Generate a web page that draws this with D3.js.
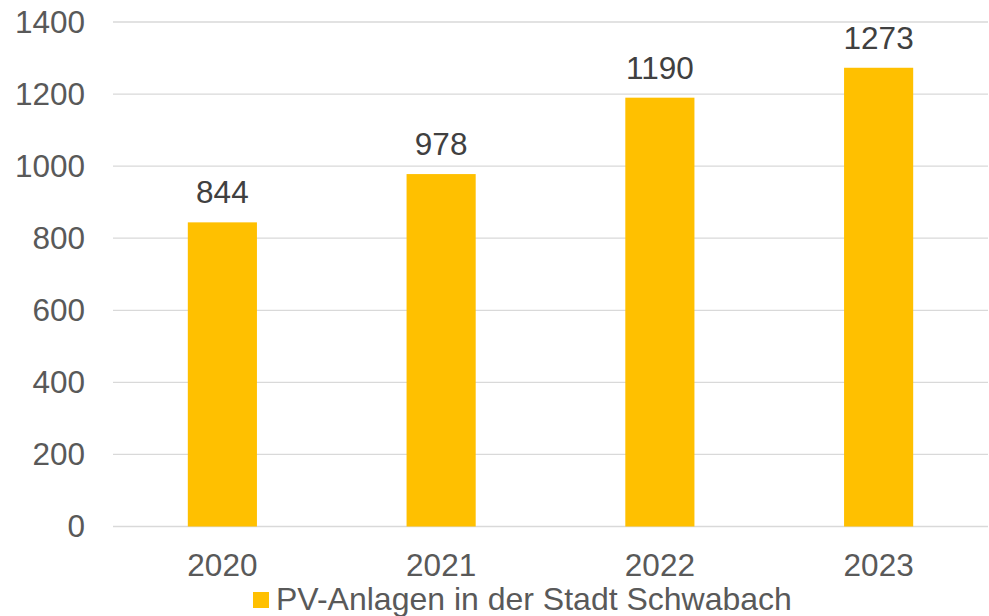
<!DOCTYPE html>
<html>
<head>
<meta charset="utf-8">
<script src="https://cdn.jsdelivr.net/npm/d3@7"></script>
<style>
  body { margin: 0; background: #fff; }
  text { font-family: "Liberation Sans", Arial, sans-serif; }
</style>
</head>
<body>
<div id="chart"></div>
<script>
const years = ['2020', '2021', '2022', '2023'];
const values = [844, 978, 1190, 1273];
const yTicks = [0, 200, 400, 600, 800, 1000, 1200, 1400];
const seriesName = 'PV-Anlagen in der Stadt Schwabach';

const width = 989, height = 616;
const plotLeft = 113, plotRight = 988, plotTop = 22, plotBottom = 526.5;
const fontSize = 31.5;

const svg = d3.select('#chart')
    .append('svg')
    .attr('width', width)
    .attr('height', height);

const x = d3.scaleBand()
    .domain(years)
    .range([plotLeft, plotRight])
    .paddingInner(0.684)
    .paddingOuter(0.342);

const y = d3.scaleLinear()
    .domain([0, 1400])
    .range([plotBottom, plotTop]);

// gitterlinien
svg.append('g')
    .selectAll('line')
    .data(yTicks)
    .join('line')
    .attr('x1', plotLeft)
    .attr('x2', plotRight)
    .attr('y1', d => y(d))
    .attr('y2', d => y(d))
    .attr('stroke', '#d9d9d9')
    .attr('stroke-width', 1.3);

// y-achse
const yAxis = svg.append('g')
    .attr('transform', 'translate(85,0)')
    .call(d3.axisLeft(y).tickValues(yTicks).tickFormat(d3.format('d')).tickSize(0).tickPadding(0));
yAxis.select('.domain').remove();
yAxis.selectAll('text')
    .attr('font-size', fontSize)
    .attr('fill', '#595959')
    .attr('font-family', '"Liberation Sans", Arial, sans-serif');

// balken
svg.append('g')
    .selectAll('rect')
    .data(values)
    .join('rect')
    .attr('x', (d, i) => x(years[i]))
    .attr('y', d => y(d))
    .attr('width', x.bandwidth())
    .attr('height', d => y(0) - y(d))
    .attr('fill', '#ffc000');

// werte
svg.append('g')
    .selectAll('text')
    .data(values)
    .join('text')
    .attr('x', (d, i) => x(years[i]) + x.bandwidth() / 2)
    .attr('y', d => y(d) - 19)
    .attr('text-anchor', 'middle')
    .attr('font-size', fontSize)
    .attr('fill', '#404040')
    .text(d => d);

// x-achse
const xAxis = svg.append('g')
    .attr('transform', `translate(0,${plotBottom})`)
    .call(d3.axisBottom(x).tickSize(0).tickPadding(0));
xAxis.select('.domain').remove();
xAxis.selectAll('text')
    .attr('dy', null)
    .attr('y', 49)
    .attr('font-size', fontSize)
    .attr('fill', '#595959')
    .attr('font-family', '"Liberation Sans", Arial, sans-serif');

// legende
const legend = svg.append('g');
legend.append('rect')
    .attr('x', 253)
    .attr('y', 592)
    .attr('width', 16)
    .attr('height', 16)
    .attr('fill', '#ffc000');
legend.append('text')
    .attr('x', 276)
    .attr('y', 610)
    .attr('font-size', 32)
    .attr('fill', '#595959')
    .text(seriesName);
</script>
</body>
</html>
